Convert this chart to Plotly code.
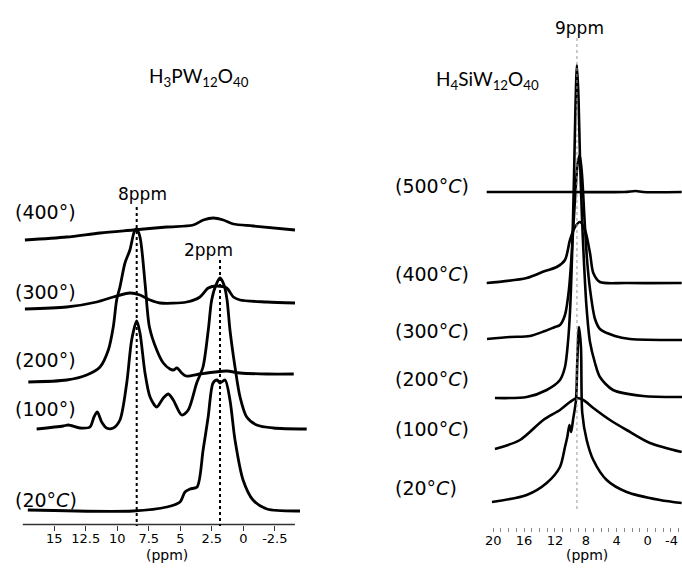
import plotly.graph_objects as go

# ---------------- Left panel: H3PW12O40 (ppm, intensity a.u.) ----------------
L20_ppm = [17.1, 8.75, 6.06, 5.02, 4.63, 4.23, 3.67, 3.19, 2.79, 2.40, 2.08, 1.85, 1.45, 1.06, 0.66, 0.02, -0.77, -1.88, -4.5]
L20_int = [0, -1, 3, 8, 18, 21, 23, 60, 93, 127, 130, 127, 130, 110, 70, 30, 10, 1, -1]

L100_ppm = [16.4, 14.29, 13.89, 12.96, 12.17, 11.85, 11.59, 11.24, 10.85, 10.32, 9.79, 9.25, 8.86, 8.46, 8.20, 7.80,
            7.40, 6.87, 6.35, 5.95, 5.56, 4.89, 4.37, 3.70, 3.20, 2.78, 2.51, 2.17, 1.85, 1.53, 1.29, 1.06, 0.66,
            0.26, -0.27, -1.06, -2.38, -5.03]
L100_int = [0, 3, 4, 1, 2, 12, 17, 7, 1, 1, 9, 46, 89, 108, 96, 56,
            32, 22, 31, 35, 29, 14, 19, 46, 62, 99, 129, 144, 151, 144, 129, 99, 62,
            32, 12, 4, 1, 0]

L200_ppm = [17.06, 14.02, 12.43, 11.37, 10.71, 10.32, 10.05, 9.79, 9.39, 9.0, 8.66, 8.48, 8.20, 7.80, 7.45,
            6.87, 6.35, 5.82, 5.56, 5.26, 4.89, 4.55, 3.44, 2.25, 1.32, 0.26, -1.86, -4.0]
L200_int = [0, 2, 7, 15, 32, 55, 82, 95, 119, 132, 150, 153, 145, 99, 55,
            32, 19, 13, 12, 14, 9, 6, 8, 10, 11, 9, 8, 8]

L300_ppm = [17.33, 14.02, 11.63, 10.32, 9.0, 8.2, 7.4, 6.6, 4.49, 3.44, 2.78, 2.11, 1.32, 0.79, 0.26, -1.86, -4.1]
L300_int = [-1, 1, 6, 11, 15, 13, 8, 5, 6, 11, 20, 22, 20, 11, 8, 6, 5]

L400_ppm = [17.33, 14.02, 11.37, 8.73, 6.08, 3.97, 3.17, 2.38, 1.59, 0.79, -0.79, -4.1]
L400_int = [0, 3, 7, 10, 13, 15, 20, 22, 20, 16, 14, 10]

left_labels = ["(20°<i>C</i>)", "(100°)", "(200°)", "(300°)", "(400°)"]
left_ticks = [15, 12.5, 10, 7.5, 5, 2.5, 0, -2.5]
left_tick_text = ["15", "12.5", "10", "7.5", "5", "2.5", "0", "-2.5"]

# ---------------- Right panel: H4SiW12O40 ----------------
R20_ppm = [20.16, 15.66, 13.07, 11.35, 10.70, 10.40, 10.12, 9.90, 9.66, 9.27, 9.11, 8.89, 8.63, 8.46, 7.89,
           7.03, 5.30, 2.71, -1.61, -4.42]
R20_int = [0, 7, 19, 35, 55, 65, 77, 70, 82, 102, 139, 175, 155, 89, 62,
           42, 22, 10, 2, -1]

R100_ppm = [19.77, 16.53, 13.51, 11.35, 10.05, 9.18, 8.33, 7.03, 4.87, 2.71, -0.31, -4.42]
R100_int = [0, 9, 29, 39, 47, 51, 49, 41, 29, 19, 6, -3]

R200_ppm = [19.77, 15.66, 13.07, 11.35, 10.70, 10.31, 10.05, 9.79, 9.53, 9.34, 9.15, 8.95, 8.76, 8.50, 8.24,
            7.91, 7.46, 6.81, 6.17, 4.48, 0.60, -4.46]
R200_int = [-1, 0, 7, 17, 30, 55, 85, 140, 220, 290, 332, 300, 240, 180, 135,
            90, 55, 34, 20, 7, 1, 0]

R300_ppm = [20.8, 17.82, 15.23, 13.29, 12.0, 11.35, 10.70, 10.18, 9.79, 9.40, 9.07, 8.79, 8.50, 8.17, 7.85,
            7.46, 6.81, 6.17, 4.23, 2.28, -4.46]
R300_int = [0, 2, 3, 8, 12, 14, 24, 50, 90, 140, 175, 184, 165, 120, 80,
            50, 20, 10, 3, 0, -1]

R400_ppm = [20.84, 15.66, 13.29, 11.77, 10.70, 10.05, 9.40, 8.76, 8.11, 7.46, 7.03, 6.17, 2.71, -4.42]
R400_int = [0, 5, 12, 16, 23, 43, 56, 61, 53, 30, 10, 1, 0, 0]

R500_ppm = [20.84, 10.0, 3.0, 1.5, 0.6, -4.42]
R500_int = [0, 0, 0, 1, 0, 0]

right_labels = ["(20°<i>C</i>)", "(100°<i>C</i>)", "(200°<i>C</i>)", "(300°<i>C</i>)", "(400°<i>C</i>)", "(500°<i>C</i>)"]
right_ticks = list(range(-4, 21))
right_tick_text = [str(v) if (v % 4 == 0 and v > -4) else "" for v in right_ticks]
right_edge_tick = -4  # labelled separately so it is not cut by the page edge

# ---------------- layout constants (pixel frame, y measured from bottom) ----------------
W, H = 682, 569
left_offsets = [59, 140, 187, 261, 329]
right_offsets = [67, 120, 172, 230, 286, 377]
left_label_y = [500, 409, 360, 292, 212]
right_label_y = [488, 429, 379, 331, 274, 186]

LFONT = "DejaVu Sans"

fig = go.Figure()

left_sets = [(L20_ppm, L20_int), (L100_ppm, L100_int), (L200_ppm, L200_int), (L300_ppm, L300_int), (L400_ppm, L400_int)]
for (px, iy), off in zip(left_sets, left_offsets):
    fig.add_trace(go.Scatter(x=px, y=[v + off for v in iy], xaxis="x", yaxis="y", mode="lines",
                             line=dict(color="black", width=2.8, shape="spline", smoothing=0.8),
                             hoverinfo="skip", showlegend=False))

right_sets = [(R20_ppm, R20_int), (R100_ppm, R100_int), (R200_ppm, R200_int), (R300_ppm, R300_int),
              (R400_ppm, R400_int), (R500_ppm, R500_int)]
for (px, iy), off in zip(right_sets, right_offsets):
    fig.add_trace(go.Scatter(x=px, y=[v + off for v in iy], xaxis="x2", yaxis="y", mode="lines",
                             line=dict(color="black", width=2.6, shape="spline", smoothing=0.8),
                             hoverinfo="skip", showlegend=False))

ann = []
for lab, y in zip(left_labels, left_label_y):
    ann.append(dict(text=lab, x=13 / W, y=1 - y / H, xref="paper", yref="paper", xanchor="left", yanchor="middle",
                    showarrow=False, font=dict(family=LFONT, size=19, color="black")))
for lab, y in zip(right_labels, right_label_y):
    ann.append(dict(text=lab, x=393 / W, y=1 - y / H, xref="paper", yref="paper", xanchor="left", yanchor="middle",
                    showarrow=False, font=dict(family=LFONT, size=19, color="black")))

def txt(t, x, y, size=18, fam=LFONT):
    return dict(text=t, x=x / W, y=1 - y / H, xref="paper", yref="paper", xanchor="center", yanchor="middle",
                showarrow=False, font=dict(family=fam, size=size, color="black"))

ann += [
    txt("8ppm", 142, 194, 17),
    txt("2ppm", 208, 250, 17),
    txt("9ppm", 579, 28, 17),
    txt("H<sub>3</sub>PW<sub>12</sub>O<sub>40</sub>", 199, 77, 19, "Lato"),
    txt("H<sub>4</sub>SiW<sub>12</sub>O<sub>40</sub>", 487, 80, 19, "Lato"),
    txt("(ppm)", 167, 555, 14),
    txt("(ppm)", 587, 555, 14),
    dict(text=str(right_edge_tick), x=right_edge_tick, xref="x2", y=1 - 540 / H, yref="paper",
         xanchor="right", yanchor="middle", xshift=2, showarrow=False,
         font=dict(family=LFONT, size=13, color="black")),
]

shapes = [
    dict(type="line", xref="x", yref="y", x0=17.5, x1=-4.1, y0=H - 524.5, y1=H - 524.5,
         line=dict(color="#333", width=1.3)),
    dict(type="line", xref="x", yref="y", x0=8.46, x1=8.46, y0=H - 207, y1=H - 526,
         line=dict(color="black", width=2, dash="dot")),
    dict(type="line", xref="x", yref="y", x0=1.85, x1=1.85, y0=H - 260, y1=H - 526,
         line=dict(color="black", width=2, dash="dot")),
    dict(type="line", xref="x2", yref="y", x0=9.15, x1=9.15, y0=H - 38, y1=H - 510,
         line=dict(color="#999", width=1, dash="dot")),
]

axis_common = dict(anchor="free", showline=False, showgrid=False, zeroline=False, ticks="outside",
                   ticklabelstandoff=-3, tickfont=dict(family=LFONT, size=13, color="black"))

fig.update_layout(
    width=W, height=H, margin=dict(l=0, r=0, t=0, b=0),
    paper_bgcolor="white", plot_bgcolor="white",
    annotations=ann, shapes=shapes, showlegend=False,
    xaxis=dict(domain=[20 / W, 312 / W], range=[17.72, -5.45], position=(H - 524.5) / H,
               ticklen=5, tickwidth=1.3, tickcolor="#333", tickvals=left_ticks, ticktext=left_tick_text,
               **axis_common),
    xaxis2=dict(domain=[484 / W, 1], range=[21.19, -4.46], position=(H - 527) / H,
                ticklen=4, tickwidth=1, tickcolor="#888", tickvals=right_ticks, ticktext=right_tick_text,
                **axis_common),
    yaxis=dict(domain=[0, 1], range=[0, H], visible=False, showgrid=False, zeroline=False),
)

fig.write_html("out.html", config={"displayModeBar": False},
               post_script="document.body.style.margin='0';document.body.style.padding='0';"
                           "document.body.style.overflow='hidden';")
